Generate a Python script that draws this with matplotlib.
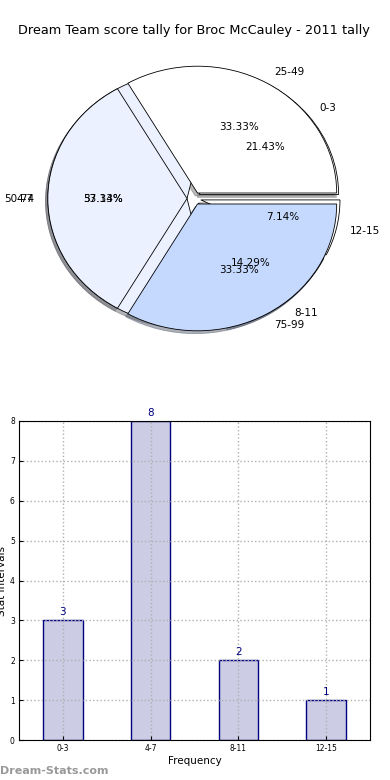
import matplotlib
matplotlib.use("Agg")
import matplotlib.pyplot as plt

# pie data (two tallies drawn on the same axes)
score_labels = ["25-49", "50-74", "75-99"]
score_counts = [1, 1, 1]
stat_labels = ["0-3", "4-7", "8-11", "12-15"]
stat_counts = [3, 8, 2, 1]

pie_colors = ["#FFFFFF", "#EBF1FF", "#C5D9FF"]

fig = plt.figure(figsize=(3.9, 7.8), dpi=100)
fig.text(0.497, 0.961, "Dream Team score tally for Broc McCauley - 2011 tally",
         ha="center", va="center", fontsize=9.3)

# pie axes
shadow_kw = {"ox": -0.012, "oy": -0.016, "shade": 0.55}
ax1 = fig.add_axes([20 / 390, 1 - 357 / 780, 348 / 390, 317 / 780])
ax1.pie(stat_counts, labels=stat_labels, autopct="%1.2f%%",
        explode=[0.05] * len(stat_counts), colors=pie_colors,
        shadow=shadow_kw, wedgeprops={"edgecolor": "black", "linewidth": 0.6},
        textprops={"fontsize": 7.5})
ax1.pie(score_counts, labels=score_labels, autopct="%1.2f%%",
        explode=[0.05] * len(score_counts), colors=pie_colors,
        shadow=shadow_kw, wedgeprops={"edgecolor": "black", "linewidth": 0.6},
        textprops={"fontsize": 7.5})
ax1.set_aspect("auto")
ax1.set_xlim(-1.25, 1.25)
ax1.set_ylim(-1.25, 1.25)

# bar axes
ax2 = fig.add_axes([19 / 390, 40 / 780, 351 / 390, 319 / 780])
x = list(range(len(stat_labels)))
ax2.bar(x, stat_counts, width=0.45, color=(0, 0, 0.5, 0.2),
        edgecolor="navy", linewidth=1)
for xi, v in zip(x, stat_counts):
    ax2.text(xi, v + 0.08, str(v), ha="center", va="bottom",
             color="navy", fontsize=7.5)
ax2.set_xlim(-0.5, 3.5)
ax2.set_ylim(0, 8)
ax2.set_xticks(x)
ax2.set_xticklabels(stat_labels)
ax2.set_yticks(range(9))
ax2.tick_params(labelsize=5.5, length=3, direction="in", pad=3)
ax2.grid(True, linestyle=":", color="#b0b0b0", linewidth=1)
ax2.set_axisbelow(False)
for sp in ax2.spines.values():
    sp.set_zorder(5)
ax2.set_xlabel("Frequency", fontsize=7.5, labelpad=2)
ax2.set_ylabel("Stat Intervals", fontsize=7.5, labelpad=2)

fig.text(0.0, 0.012, "Dream-Stats.com", fontsize=8, color="#999999",
         fontweight="bold", ha="left", va="center")

fig.savefig("out.png", dpi=100)
